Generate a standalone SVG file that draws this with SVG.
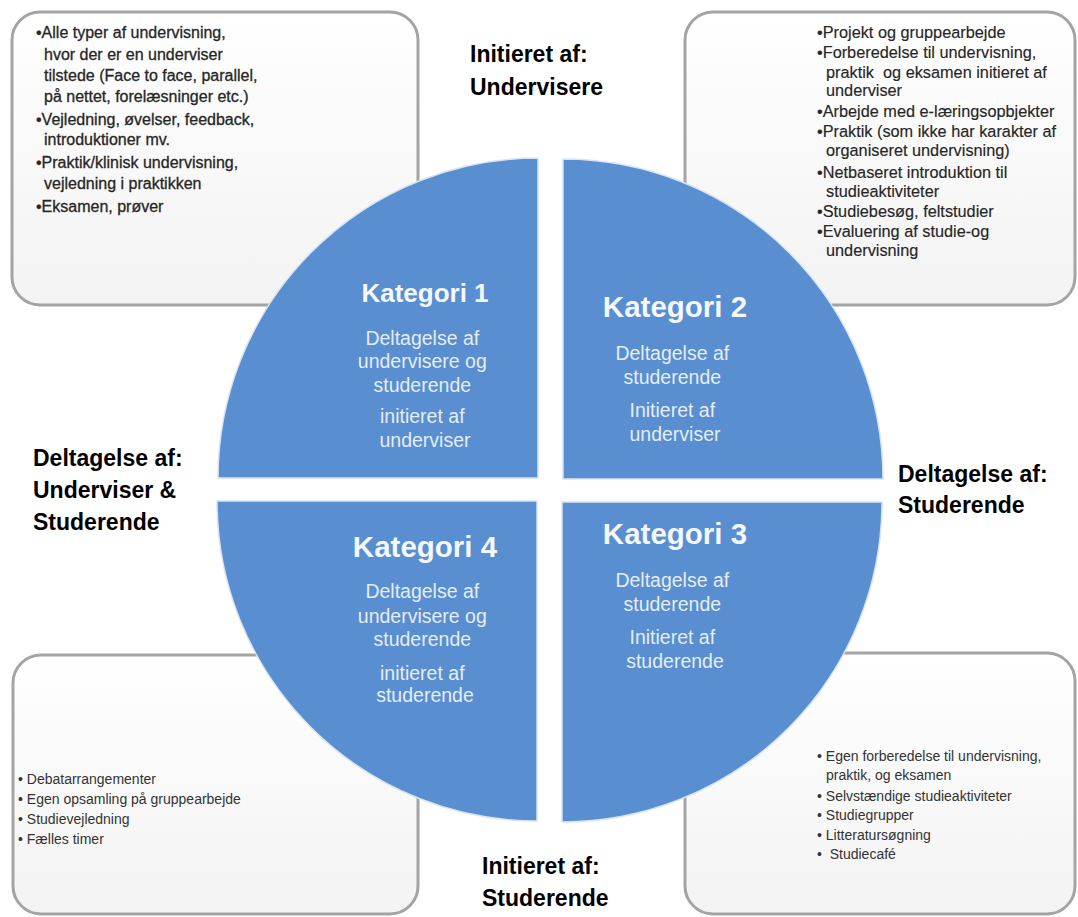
<svg xmlns="http://www.w3.org/2000/svg" width="1078" height="917" viewBox="0 0 1078 917">
  <defs>
    <linearGradient id="boxFill" x1="0" y1="0" x2="0" y2="1">
      <stop offset="0" stop-color="#ffffff"/>
      <stop offset="1" stop-color="#f3f3f3"/>
    </linearGradient>
    <style>
      .box { fill: url(#boxFill); stroke: #a4a4a4; stroke-width: 3; }
      .quad { fill: #598ed1; stroke: #d6e4f5; stroke-width: 1.5; }
      .btxt { font-family: "Liberation Sans", Arial, sans-serif; font-size: 16px; fill: #262626; stroke: #262626; stroke-width: 0.3; }
      .stxt { font-family: "Liberation Sans", Arial, sans-serif; font-size: 14px; fill: #333333; }
      .qtitle { font-family: "Liberation Sans", Arial, sans-serif; font-weight: bold; fill: #f4f7fc; text-anchor: middle; }
      .qsub { font-family: "Liberation Sans", Arial, sans-serif; font-size: 19.5px; fill: #e4edf9; text-anchor: middle; }
      .lbl { font-family: "Liberation Sans", Arial, sans-serif; font-weight: bold; font-size: 23px; fill: #000000; }
    </style>
  </defs>
  <rect width="1078" height="917" fill="#ffffff"/>

  <g id="box-top-left">
    <rect class="box" x="12" y="12" width="406" height="293" rx="28"/>
    <text class="btxt">
      <tspan x="36" y="38">•Alle typer af undervisning,</tspan>
      <tspan x="44" y="60">hvor der er en underviser</tspan>
      <tspan x="44" y="81">tilstede (Face to face, parallel,</tspan>
      <tspan x="44" y="102">på nettet, forelæsninger etc.)</tspan>
      <tspan x="36" y="125">•Vejledning, øvelser, feedback,</tspan>
      <tspan x="44" y="145">introduktioner mv.</tspan>
      <tspan x="36" y="168">•Praktik/klinisk undervisning,</tspan>
      <tspan x="44" y="189">vejledning i praktikken</tspan>
      <tspan x="36" y="212">•Eksamen, prøver</tspan>
    </text>
  </g>

  <g id="box-top-right">
    <rect class="box" x="685" y="12" width="390" height="293" rx="28"/>
    <text class="btxt" style="font-size:16.3px; stroke-width:0.15">
      <tspan x="817" y="38">•Projekt og gruppearbejde</tspan>
      <tspan x="817" y="58">•Forberedelse til undervisning,</tspan>
      <tspan x="826" y="78" xml:space="preserve">praktik  og eksamen initieret af</tspan>
      <tspan x="826" y="96">underviser</tspan>
      <tspan x="817" y="117">•Arbejde med e-læringsopbjekter</tspan>
      <tspan x="817" y="137">•Praktik (som ikke har karakter af</tspan>
      <tspan x="826" y="156">organiseret undervisning)</tspan>
      <tspan x="817" y="178">•Netbaseret introduktion til</tspan>
      <tspan x="826" y="197">studieaktiviteter</tspan>
      <tspan x="817" y="217">•Studiebesøg, feltstudier</tspan>
      <tspan x="817" y="237">•Evaluering af studie-og</tspan>
      <tspan x="826" y="256">undervisning</tspan>
    </text>
  </g>

  <g id="box-bottom-left">
    <rect class="box" x="13" y="655" width="405" height="259" rx="28"/>
    <text class="stxt">
      <tspan x="18" y="784">• Debatarrangementer</tspan>
      <tspan x="18" y="804">• Egen opsamling på gruppearbejde</tspan>
      <tspan x="18" y="824">• Studievejledning</tspan>
      <tspan x="18" y="844">• Fælles timer</tspan>
    </text>
  </g>

  <g id="box-bottom-right">
    <rect class="box" x="685" y="653" width="390" height="261" rx="28"/>
    <text class="stxt">
      <tspan x="817" y="761">• Egen forberedelse til undervisning,</tspan>
      <tspan x="826" y="780">praktik, og eksamen</tspan>
      <tspan x="817" y="801">• Selvstændige studieaktiviteter</tspan>
      <tspan x="817" y="820">• Studiegrupper</tspan>
      <tspan x="817" y="840">• Litteratursøgning</tspan>
      <tspan x="817" y="859" xml:space="preserve">•  Studiecafé</tspan>
    </text>
  </g>

  <g id="kategori-1">
    <path class="quad" d="M538,478 L218,478 A320,320 0 0 1 538,158 Z"/>
    <text class="qtitle" x="425" y="302" font-size="26">Kategori 1</text>
    <text class="qsub">
      <tspan x="425" y="345">Deltagelse af</tspan>
      <tspan x="425" y="368">undervisere og</tspan>
      <tspan x="425" y="392">studerende</tspan>
      <tspan x="425" y="423">initieret af</tspan>
      <tspan x="425" y="447">underviser</tspan>
    </text>
  </g>

  <g id="kategori-2">
    <path class="quad" d="M563,479 L563,159 A320,320 0 0 1 883,479 Z"/>
    <text class="qtitle" x="675" y="317" font-size="29.5">Kategori 2</text>
    <text class="qsub">
      <tspan x="675" y="360">Deltagelse af</tspan>
      <tspan x="675" y="384">studerende</tspan>
      <tspan x="675" y="417">Initieret af</tspan>
      <tspan x="675" y="441">underviser</tspan>
    </text>
  </g>

  <g id="kategori-3">
    <path class="quad" d="M562,502 L882,502 A320,320 0 0 1 562,822 Z"/>
    <text class="qtitle" x="675" y="544" font-size="29.5">Kategori 3</text>
    <text class="qsub">
      <tspan x="675" y="587">Deltagelse af</tspan>
      <tspan x="675" y="611">studerende</tspan>
      <tspan x="675" y="644">Initieret af</tspan>
      <tspan x="675" y="668">studerende</tspan>
    </text>
  </g>

  <g id="kategori-4">
    <path class="quad" d="M537,501 L537,821 A320,320 0 0 1 217,501 Z"/>
    <text class="qtitle" x="425" y="557" font-size="29.5">Kategori 4</text>
    <text class="qsub">
      <tspan x="425" y="598">Deltagelse af</tspan>
      <tspan x="425" y="623">undervisere og</tspan>
      <tspan x="425" y="646">studerende</tspan>
      <tspan x="425" y="680">initieret af</tspan>
      <tspan x="425" y="702">studerende</tspan>
    </text>
  </g>

  <g id="label-top">
    <text class="lbl"><tspan x="470" y="62">Initieret af:</tspan><tspan x="470" y="95">Undervisere</tspan></text>
  </g>
  <g id="label-left">
    <text class="lbl"><tspan x="33" y="466">Deltagelse af:</tspan><tspan x="33" y="498">Underviser &amp;</tspan><tspan x="33" y="530">Studerende</tspan></text>
  </g>
  <g id="label-right">
    <text class="lbl"><tspan x="898" y="482">Deltagelse af:</tspan><tspan x="898" y="513">Studerende</tspan></text>
  </g>
  <g id="label-bottom">
    <text class="lbl"><tspan x="482" y="874">Initieret af:</tspan><tspan x="482" y="906">Studerende</tspan></text>
  </g>

  <g id="connectors"></g>
</svg>
